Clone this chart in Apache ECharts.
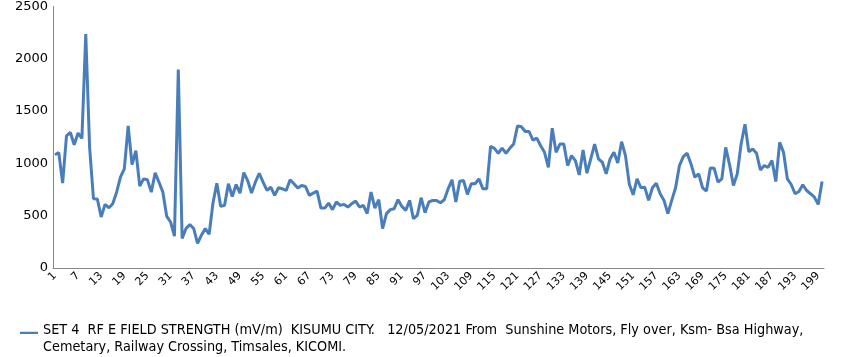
<!DOCTYPE html>
<html><head><meta charset="utf-8">
<script src="https://cdn.jsdelivr.net/npm/echarts@6/dist/echarts.min.js"></script>
<style>html,body{margin:0;padding:0;background:#fff}#c{width:842px;height:357px}</style>
</head><body><div id="c"></div>
<script>
const seriesName = "SET 4  RF E FIELD STRENGTH (mV/m)  KISUMU CITY.   12/05/2021 From  Sunshine Motors, Fly over, Ksm- Bsa Highway, Cemetary, Railway Crossing, Timsales, KICOMI.";
const categories = [];
for (let i = 1; i <= 200; i++) categories.push(String(i));
const values = [
1083,1103,811,1264,1296,1179,1290,1239,2237,1150,
662,660,488,608,576,614,725,868,947,1359,
988,1121,783,852,843,725,909,820,725,494,
440,304,1897,282,377,415,377,235,314,377,
323,621,811,589,600,806,684,798,716,912,
836,716,821,906,821,741,773,694,767,757,
741,843,805,764,789,779,694,716,735,573,
573,621,558,631,599,608,583,615,640,583,
599,520,726,573,653,377,520,558,567,653,
589,551,646,472,504,672,529,631,646,646,
624,653,757,843,631,830,836,703,805,805,
852,757,757,1163,1144,1097,1147,1097,1144,1185,
1359,1350,1305,1305,1223,1242,1169,1106,963,1337,
1106,1185,1185,979,1074,1027,890,1128,906,1043,
1185,1043,1011,900,1043,1106,1004,1207,1074,800,
700,852,767,773,646,767,811,710,646,520,
646,767,979,1065,1097,995,868,900,767,735,
957,954,821,852,1153,989,789,900,1185,1375,
1112,1138,1097,938,979,963,1027,827,1201,1106,
852,798,710,732,795,741,710,678,608,827
];
const yTicks = [0, 500, 1000, 1500, 2000, 2500];

const chart = echarts.init(document.getElementById('c'), null, {renderer: 'canvas'});
chart.setOption({
  animation: false,
  backgroundColor: '#fff',
  grid: {left: 53, right: 18, top: 5, bottom: 89, containLabel: false},
  legend: {
    show: true,
    left: 20, top: 322, padding: 0,
    itemWidth: 18, itemHeight: 20, itemGap: 4,
    icon: 'path://M0,0h0.01v0.01h-0.01z M0,1h22v3h-22z M0,19.99h0.01v0.01h-0.01z',
    textStyle: {fontFamily: 'DejaVu Sans Condensed, Liberation Sans, sans-serif', fontSize: 14.3, color: '#000', lineHeight: 17},
    formatter: function (n) {
      return n.replace(' Highway, ', ' Highway,\n');
    },
    data: [seriesName]
  },
  xAxis: {
    type: 'category',
    data: categories,
    boundaryGap: true,
    axisLine: {lineStyle: {color: '#888', width: 1}},
    axisTick: {show: false},
    axisLabel: {
      interval: 5, rotate: 45, margin: 6,
      fontFamily: 'DejaVu Sans', fontSize: 11, color: '#000'
    },
    splitLine: {show: false}
  },
  yAxis: {
    type: 'value',
    min: yTicks[0], max: yTicks[yTicks.length - 1], interval: 500,
    axisLine: {show: true, lineStyle: {color: '#888', width: 1}},
    axisTick: {show: false},
    axisLabel: {fontFamily: 'DejaVu Sans', fontSize: 13, color: '#000', margin: 5,
      formatter: function (v) { return String(v); }},
    splitLine: {show: false}
  },
  series: [{
    name: seriesName,
    type: 'line',
    data: values,
    showSymbol: false,
    symbol: 'none',
    lineStyle: {color: '#4a7ebb', width: 3},
    itemStyle: {color: '#4a7ebb'}
  }]
});
</script></body></html>
